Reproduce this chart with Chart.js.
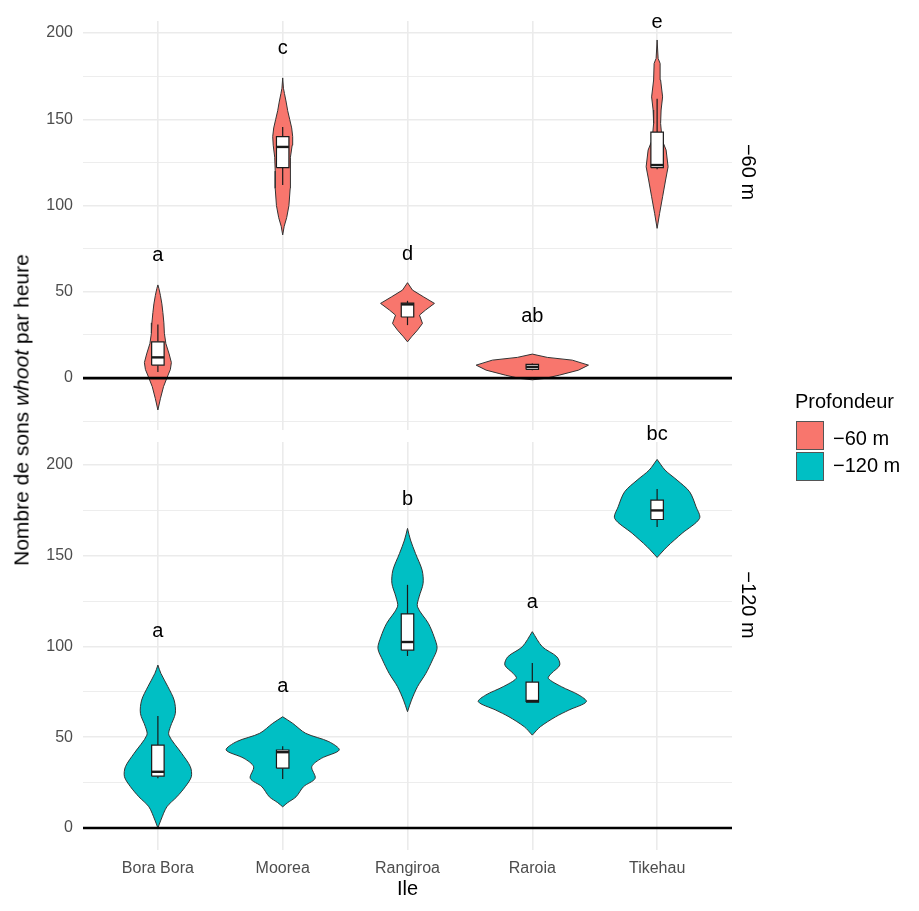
<!DOCTYPE html>
<html lang="fr">
<head>
<meta charset="utf-8">
<title>Nombre de sons whoot par heure</title>
<script src="https://cdn.jsdelivr.net/npm/chart.js@4.4.0/dist/chart.umd.min.js"></script>
<style>
  html, body { margin: 0; padding: 0; background: #fff; }
  body { width: 919px; height: 911px; position: relative; overflow: hidden;
         font-family: "Liberation Sans", Arial, sans-serif; }
  #boiteHaut { position: absolute; left: 0; top: 0; width: 919px; height: 436px; }
  #boiteBas { position: absolute; left: 0; top: 416px; width: 919px; height: 495px; }
  .txt { position: absolute; white-space: nowrap; color: #000; font-size: 20px; line-height: 1; }
  .tourne { transform: translate(-50%, -50%) rotate(90deg); }
  .cle { position: absolute; width: 28px; height: 29px; box-sizing: border-box; border: 1px solid #555; }
</style>
</head>
<body>
<div id="boiteHaut"><canvas id="chartHaut"></canvas></div>
<div id="boiteBas"><canvas id="chartBas"></canvas></div>

<div class="txt" style="left:21px; top:410px; font-size:21px; transform: translate(-50%, -50%) rotate(-90deg);">Nombre de sons <i>whoot</i> par heure</div>
<div class="txt tourne" style="left:749px; top:172px;">−60 m</div>
<div class="txt tourne" style="left:749px; top:605px;">−120 m</div>

<div class="txt" style="left:795px; top:391px;">Profondeur</div>
<div class="cle" style="left:796px; top:421px; background:#F8766D;"></div>
<div class="cle" style="left:796px; top:452px; background:#00BFC4;"></div>
<div class="txt" style="left:833px; top:428px;">−60 m</div>
<div class="txt" style="left:833px; top:455px;">−120 m</div>

<script>
const iles = ["Bora Bora", "Moorea", "Rangiroa", "Raroia", "Tikehau"];
const couleurs = ["#F8766D", "#00BFC4"];
const graduations = [-25, 0, 25, 50, 75, 100, 125, 150, 175, 200];

// profils des violons : [valeur, demi-largeur en unités de catégorie]
const violon60BoraBora = [[-18.5, 0], [-12, 0.02], [-5, 0.045], [0, 0.072], [5, 0.1], [9, 0.108], [14, 0.09],
  [20, 0.064], [26, 0.052], [32, 0.048], [38, 0.04], [43, 0.032], [48, 0.02], [52, 0.008], [54, 0]];
const violon60Moorea = [[83, 0], [88, 0.012], [93, 0.032], [100, 0.05], [110, 0.06], [120, 0.06], [128, 0.064],
  [135, 0.076], [140, 0.08], [145, 0.072], [150, 0.056], [155, 0.04], [160, 0.028], [165, 0.014], [168, 0.006], [174, 0]];
const violon60Rangiroa = [[21, 0], [23.9, 0.032], [27.8, 0.08], [31.7, 0.12], [36.5, 0.096], [39.4, 0.144],
  [43.3, 0.216], [47.1, 0.128], [51, 0.04], [55.3, 0]];
const violon60Raroia = [[-1, 0], [-0.2, 0.1], [1.7, 0.216], [4.6, 0.37], [7.5, 0.45], [10.4, 0.32], [12, 0.12], [13.9, 0]];
const violon60Tikehau = [[86.8, 0], [95.5, 0.02], [105.1, 0.044], [114.8, 0.068], [122.5, 0.088], [132.2, 0.072],
  [138, 0.04], [147.6, 0.028], [155.4, 0.032], [163, 0.044], [172.8, 0.028], [182.4, 0.024], [185.3, 0.008], [196, 0]];

const violon120BoraBora = [[0, 0], [4.4, 0.024], [11.7, 0.072], [17.2, 0.152], [22.8, 0.22], [28.3, 0.268],
  [33.8, 0.26], [41.2, 0.19], [51.2, 0.088], [55.8, 0.1], [63.2, 0.14], [70.5, 0.13], [77.9, 0.08], [85.2, 0.024], [89.8, 0]];
const violon120Moorea = [[11.7, 0], [14, 0.04], [17.2, 0.107], [22.8, 0.167], [27.4, 0.26], [33.8, 0.233], [38.4, 0.31],
  [43, 0.453], [47.6, 0.37], [52.2, 0.184], [57.7, 0.08], [61.3, 0]];
const violon120Rangiroa = [[64.1, 0], [70.5, 0.032], [77.9, 0.08], [85.2, 0.147], [92.6, 0.2], [99, 0.237],
  [105.4, 0.213], [112.8, 0.167], [121.9, 0.08], [127.4, 0.093], [134.8, 0.125], [142.1, 0.117], [151.3, 0.064],
  [158.7, 0.024], [165.1, 0]];
const violon120Raroia = [[51.2, 0], [55.8, 0.064], [61.3, 0.187], [65, 0.293], [69.6, 0.433], [73.3, 0.373],
  [77.9, 0.233], [82.5, 0.128], [85.2, 0.153], [89.8, 0.22], [94.4, 0.196], [99.9, 0.08], [108.2, 0]];
const violon120Tikehau = [[149.1, 0], [155, 0.08], [162.4, 0.2], [170.6, 0.34], [177, 0.312], [185.3, 0.26],
  [191.7, 0.16], [197.2, 0.064], [203.1, 0]];

// boîtes : [min, q1, médiane, q3, max]
const boites60 = [[3.5, 7.5, 12, 21, 31], [112, 122, 134, 140, 145.5], [30.7, 35.4, 42.7, 43.5, 44.8],
  [4.6, 5, 6.5, 8, 8.5], [121, 122, 123.5, 142.6, 162]];
const boites120 = [[27.5, 28.6, 31, 45.7, 61.7], [27, 33, 41.8, 43, 45], [94.8, 98, 102.5, 118, 134],
  [69.4, 69.4, 70, 80.4, 91], [165.8, 170, 175, 180.7, 186.8]];

// lettres des groupes et leur hauteur
const lettres60 = ["a", "c", "d", "ab", "e"];
const hauteurLettres60 = [67.8, 187.8, 68.4, 32.6, 202.7];
const lettres120 = ["a", "a", "b", "a", "bc"];
const hauteurLettres120 = [105.4, 75.1, 178, 121, 213.8];

const ligneZero = 0;
const police = '"Liberation Sans", Arial, sans-serif';
const demiBoite = 0.05;

function jeuxDonnees(violons, boites, couleur, tension) {
  const ds = [];
  violons.forEach((profil, i) => {
    const c = i + 1;
    const droite = profil.map(([v, l]) => ({ x: c + l, y: v }));
    const gauche = profil.slice().reverse().map(([v, l]) => ({ x: c - l, y: v }));
    ds.push({
      data: droite.concat(gauche), backgroundColor: couleur, borderColor: "#333333",
      borderWidth: 1, fill: "shape", tension: tension, order: 3
    });
  });
  boites.forEach(([mn, q1, med, q3, mx], i) => {
    const c = i + 1;
    ds.push({ data: [{ x: c, y: q3 }, { x: c, y: mx }], borderColor: "#1a1a1a", borderWidth: 1.2, fill: false, order: 2 });
    ds.push({ data: [{ x: c, y: mn }, { x: c, y: q1 }], borderColor: "#1a1a1a", borderWidth: 1.2, fill: false, order: 2 });
    ds.push({
      data: [{ x: c - demiBoite, y: q1 }, { x: c + demiBoite, y: q1 }, { x: c + demiBoite, y: q3 },
             { x: c - demiBoite, y: q3 }, { x: c - demiBoite, y: q1 }],
      backgroundColor: "#ffffff", borderColor: "#1a1a1a", borderWidth: 1.2, fill: "shape", order: 1
    });
    ds.push({ data: [{ x: c - demiBoite, y: med }, { x: c + demiBoite, y: med }], borderColor: "#1a1a1a", borderWidth: 2.4, fill: false, order: 0 });
  });
  ds.push({ data: [{ x: 0.4, y: ligneZero }, { x: 5.6, y: ligneZero }], borderColor: "#000000", borderWidth: 2.6, fill: false, order: -1 });
  return ds;
}

// texte des lettres au-dessus des violons
const pluginLettres = {
  id: "lettres",
  afterDatasetsDraw(chart, args, opts) {
    const { ctx, scales: { x, y } } = chart;
    ctx.save();
    ctx.font = "20px " + police;
    ctx.fillStyle = "#000";
    ctx.textAlign = "center";
    ctx.textBaseline = "alphabetic";
    opts.textes.forEach((t, i) => ctx.fillText(t, x.getPixelForValue(i + 1), y.getPixelForValue(opts.hauteurs[i])));
    ctx.restore();
  }
};

function options(ymin, ymax, basAxe, hautPadding, etiquettes, textes, hauteurs) {
  return {
    responsive: true,
    maintainAspectRatio: false,
    animation: false,
    events: [],
    layout: { padding: { left: 0, right: 187, top: hautPadding, bottom: 0 } },
    elements: { point: { radius: 0 }, line: { capBezierPoints: true } },
    plugins: { legend: { display: false }, tooltip: { enabled: false }, lettres: { textes, hauteurs } },
    scales: {
      x: {
        type: "linear", min: 0.4, max: 5.6,
        afterBuildTicks: s => { s.ticks = iles.map((_, i) => ({ value: i + 1 })); },
        afterFit: s => { s.height = basAxe; s.paddingLeft = 0; s.paddingRight = 0; },
        border: { display: false },
        grid: { color: "#ebebeb", lineWidth: 1.6, drawTicks: false },
        ticks: {
          display: etiquettes, padding: 9, autoSkip: false, maxRotation: 0,
          color: "#4d4d4d", font: { family: police, size: 16 },
          callback: v => iles[v - 1] || ""
        },
        title: { display: etiquettes, text: "Ile", color: "#000", font: { family: police, size: 20 }, padding: { top: 0, bottom: 10 } }
      },
      y: {
        type: "linear", min: ymin, max: ymax,
        afterBuildTicks: s => { s.ticks = graduations.filter(v => v >= ymin && v <= ymax).map(v => ({ value: v })); },
        afterFit: s => { s.width = 83; s.paddingTop = 0; s.paddingBottom = 0; },
        border: { display: false },
        grid: {
          color: "#ebebeb", drawTicks: false,
          lineWidth: c => (c.tick && c.tick.value % 50 === 0) ? 1.6 : 0.9
        },
        ticks: {
          padding: 10, color: "#4d4d4d", autoSkip: false,
          font: { family: police, size: 16 },
          callback: v => (v % 50 === 0 ? v : "")
        }
      }
    }
  };
}

new Chart(document.getElementById("chartHaut"), {
  type: "line",
  data: { datasets: jeuxDonnees([violon60BoraBora, violon60Moorea, violon60Rangiroa, violon60Raroia, violon60Tikehau], boites60, couleurs[0], 0) },
  options: options(-30.1, 207, 6, 21, false, lettres60, hauteurLettres60),
  plugins: [pluginLettres]
});

new Chart(document.getElementById("chartBas"), {
  type: "line",
  data: { datasets: jeuxDonnees([violon120BoraBora, violon120Moorea, violon120Rangiroa, violon120Raroia, violon120Tikehau], boites120, couleurs[1], 0.3) },
  options: options(-12.1, 212.7, 61, 26, true, lettres120, hauteurLettres120),
  plugins: [pluginLettres]
});
</script>
</body>
</html>
